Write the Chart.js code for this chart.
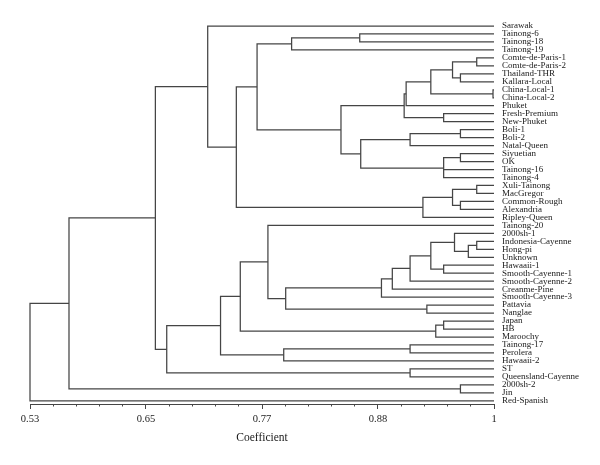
<!DOCTYPE html>
<html>
<head>
<meta charset="utf-8">
<title>Dendrogram</title>
<script src="https://cdn.jsdelivr.net/npm/chart.js@4"></script>
<style>
  html, body { margin: 0; padding: 0; background: #fff; }
  #wrap { width: 600px; height: 465px; }
</style>
</head>
<body>
<div id="wrap"><canvas id="chart" width="600" height="465"></canvas></div>
<script>
// Leaves, top to bottom
const leafNames = [
    'Sarawak', 'Tainong-6', 'Tainong-18', 'Tainong-19', 'Comte-de-Paris-1', 'Comte-de-Paris-2',
    'Thailand-THR', 'Kallara-Local', 'China-Local-1', 'China-Local-2', 'Phuket', 'Fresh-Premium',
    'New-Phuket', 'Boli-1', 'Boli-2', 'Natal-Queen', 'Siyuetian', 'OK', 'Tainong-16', 'Tainong-4',
    'Xuli-Tainong', 'MacGregor', 'Common-Rough', 'Alexandria', 'Ripley-Queen', 'Tainong-20',
    '2000sh-1', 'Indonesia-Cayenne', 'Hong-pi', 'Unknown', 'Hawaaii-1', 'Smooth-Cayenne-1',
    'Smooth-Cayenne-2', 'Creanme-Pine', 'Smooth-Cayenne-3', 'Pattavia', 'Nanglae', 'Japan', 'HB',
    'Maroochy', 'Tainong-17', 'Perolera', 'Hawaaii-2', 'ST', 'Queensland-Cayenne', '2000sh-2',
    'Jin', 'Red-Spanish'
];

// Merges, bottom-up. Ids 0-47 are leaves, merge k becomes node 48 + k
const mergeChildren = [
    [1, 2], [48, 3], [4, 5], [6, 7], [50, 51], [8, 9], [52, 53], [54, 10],
    [11, 12], [55, 56], [13, 14], [58, 15], [16, 17], [60, 18, 19], [59, 61], [57, 62],
    [49, 63], [20, 21], [22, 23], [65, 66], [67, 24], [64, 68], [0, 69], [27, 28],
    [71, 29], [26, 72], [30, 31], [73, 74], [75, 32], [76, 33], [77, 34], [35, 36],
    [78, 79], [25, 80], [37, 38], [82, 39], [81, 83], [40, 41], [85, 42], [84, 86],
    [43, 44], [87, 88], [70, 89], [45, 46], [90, 91], [92, 47]
];
const mergeHeights = [
    0.864, 0.795, 0.9825, 0.966, 0.958, 0.999, 0.936, 0.911,
    0.949, 0.909, 0.966, 0.915, 0.966, 0.949, 0.865, 0.845,
    0.760, 0.9825, 0.966, 0.958, 0.928, 0.739, 0.710, 0.9825,
    0.974, 0.960, 0.949, 0.936, 0.915, 0.897, 0.886, 0.932,
    0.789, 0.771, 0.949, 0.941, 0.743, 0.915, 0.787, 0.723,
    0.915, 0.6685, 0.657, 0.966, 0.5695, 0.53
];

const xTickValues = [0.53, 0.6475, 0.765, 0.8825, 1];
const xTickLabels = ['0.53', '0.65', '0.77', '0.88', '1'];

const lineColor = '#454545';
const textColor = '#1a1a1a';
const serif = "'Liberation Serif', 'DejaVu Serif', serif";

function segment(points) {
    return {
        data: points,
        showLine: true,
        borderColor: lineColor,
        borderWidth: 1.25,
        pointRadius: 0,
        pointHoverRadius: 0,
        fill: false,
        tension: 0,
        clip: false
    };
}

// Walk the merges and build the bracket lines
const nodeX = [];
const nodeY = [];
leafNames.forEach(function(name, i) {
    nodeX[i] = 1;
    nodeY[i] = i;
});

const datasets = [];
mergeChildren.forEach(function(kids, k) {
    const h = mergeHeights[k];
    const sorted = kids.slice().sort((a, b) => nodeY[a] - nodeY[b]);
    const first = sorted[0];
    const last = sorted[sorted.length - 1];
    datasets.push(segment([
        { x: nodeX[first], y: nodeY[first] },
        { x: h, y: nodeY[first] },
        { x: h, y: nodeY[last] },
        { x: nodeX[last], y: nodeY[last] }
    ]));
    sorted.slice(1, -1).forEach(function(c) {
        datasets.push(segment([{ x: nodeX[c], y: nodeY[c] }, { x: h, y: nodeY[c] }]));
    });
    const id = leafNames.length + k;
    nodeX[id] = h;
    nodeY[id] = kids.reduce((s, c) => s + nodeY[c], 0) / kids.length;
});

// minor ticks: 4 between each pair of labelled ticks
const xMinorValues = [];
for (let i = 0; i < xTickValues.length - 1; i++) {
    const step = (xTickValues[i + 1] - xTickValues[i]) / 5;
    for (let j = 0; j < 5; j++) xMinorValues.push(xTickValues[i] + step * j);
}
xMinorValues.push(xTickValues[xTickValues.length - 1]);

new Chart(document.getElementById('chart').getContext('2d'), {
    type: 'scatter',
    data: { datasets: datasets },
    options: {
        responsive: false,
        animation: false,
        devicePixelRatio: 1,
        layout: { padding: { top: 26, left: 30, right: 0, bottom: 0 } },
        plugins: {
            legend: { display: false },
            tooltip: { enabled: false }
        },
        scales: {
            x: {
                type: 'linear',
                position: 'bottom',
                weight: 1,
                min: 0.53,
                max: 1,
                afterBuildTicks: function(scale) {
                    scale.ticks = xTickValues.map(v => ({ value: v }));
                },
                afterFit: function(scale) {
                    scale.height = 61;
                },
                ticks: {
                    autoSkip: false,
                    maxRotation: 0,
                    padding: 4,
                    color: textColor,
                    font: { family: serif, size: 10.5 },
                    callback: function(value, index) {
                        return xTickLabels[index];
                    }
                },
                grid: { drawOnChartArea: false, tickLength: 5, tickColor: lineColor, color: lineColor },
                border: { color: lineColor, width: 1 },
                title: {
                    display: true,
                    text: 'Coefficient',
                    color: textColor,
                    font: { family: serif, size: 11.5 },
                    padding: { top: 4, bottom: 20.6 }
                }
            },
            xMinor: {
                type: 'linear',
                position: 'bottom',
                weight: 0,
                min: 0.53,
                max: 1,
                afterBuildTicks: function(scale) {
                    scale.ticks = xMinorValues.map(v => ({ value: v }));
                },
                afterFit: function(scale) {
                    scale.height = 0;
                },
                ticks: { display: false },
                grid: { drawOnChartArea: false, tickLength: 2.5, tickColor: lineColor, color: lineColor },
                border: { color: lineColor, width: 1 }
            },
            y: {
                type: 'linear',
                position: 'right',
                reverse: true,
                min: 0,
                max: 47.4,
                afterBuildTicks: function(scale) {
                    scale.ticks = leafNames.map((n, i) => ({ value: i }));
                },
                afterFit: function(scale) {
                    scale.width = 106;
                },
                ticks: {
                    autoSkip: false,
                    padding: 8,
                    color: textColor,
                    font: { family: serif, size: 9 },
                    callback: function(value) {
                        return leafNames[value];
                    }
                },
                grid: { display: false, drawTicks: false },
                border: { display: false }
            }
        }
    }
});
</script>
</body>
</html>
